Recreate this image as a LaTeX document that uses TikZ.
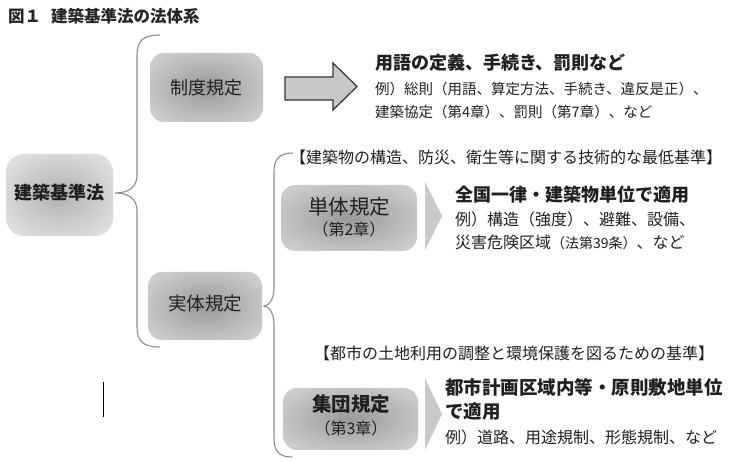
\documentclass[tikz,border=0pt]{standalone}
\usepackage{fontspec}
\setmainfont{Noto Sans CJK JP}
\definecolor{txt}{HTML}{231F20}
\definecolor{bracecol}{HTML}{8C8C8C}
\definecolor{arrfill}{HTML}{C8C8C8}
\definecolor{chevfill}{HTML}{C9C9CA}
\colorlet{shinA}{black!40}
\colorlet{shoutA}{black!20}
\colorlet{shinB}{black!30}
\colorlet{shoutB}{black!13}
\pgfdeclareradialshading{boxshade}{\pgfpoint{0bp}{0bp}}{color(0bp)=(shinA); color(30bp)=(shoutA); color(50bp)=(shoutA)}
\pgfdeclareradialshading{rootshade}{\pgfpoint{0bp}{0bp}}{color(0bp)=(shinB); color(30bp)=(shoutB); color(50bp)=(shoutB)}
\newcommand{\fs}[1]{\fontsize{#1}{#1}\selectfont}
\tikzset{
  box/.style={rounded corners=14pt, shading=boxshade, inner sep=0pt, text=txt},
  rootbox/.style={rounded corners=18pt, shading=rootshade, inner sep=0pt, text=txt},
  lbl/.style={inner sep=0pt, anchor=west, text=txt},
  clbl/.style={inner sep=0pt, anchor=center, text=txt},
  brace/.style={draw=bracecol, line width=1.1pt},
  chev/.style={fill=chevfill, draw=none},
}
\begin{document}
\begin{tikzpicture}[x=1pt,y=-1pt]
\useasboundingbox[fill=white] (0,0) rectangle (732,462);

% title
\node[lbl, text=black!85] (title) at (8,16) {\fs{16.5}\bfseries 図１\hspace{0.6em}建築基準法の法体系};

% boxes
\node[rootbox, minimum width=107pt, minimum height=82pt] (kihon) at (59.5,195) {};
\node[clbl] (kihonT) at (kihon.center |- 0,193) {\fs{18}\bfseries 建築基準法};

\node[box, minimum width=113pt, minimum height=69pt] (seido) at (206.5,87.5) {};
\node[clbl] (seidoT) at (seido.center) {\fs{18}制度規定};

\node[box, minimum width=114pt, minimum height=68pt] (jittai) at (205,306) {};
\node[clbl] (jittaiT) at (jittai.center |- 0,304) {\fs{18.5}実体規定};

\node[box, minimum width=136pt, minimum height=66pt] (tantai) at (349,218) {};
\node[clbl] (tantaiT) at (349,207) {\fs{20.5}単体規定};
\node[clbl] (tantaiS) at (349,229) {\fs{16}（第2章）};

\node[box, minimum width=135pt, minimum height=62pt] (shudan) at (350.5,419) {};
\node[clbl] (shudanT) at (351,404) {\fs{19.5}\bfseries 集団規定};
\node[clbl] (shudanS) at (351,428) {\fs{16}（第3章）};

% big brace
\coordinate (b1top) at (160,35);
\coordinate (b1tip) at (115,193);
\coordinate (b1bot) at (160,347);
\draw[brace] (b1top) .. controls (143,35) and (137,41) .. (137,55) -- (137,175)
  .. controls (137,187) and (129,193) .. (b1tip)
  .. controls (129,193) and (137,199) .. (137,211) -- (137,327)
  .. controls (137,341) and (143,347) .. (b1bot);

% second brace
\coordinate (b2top) at (293,153);
\coordinate (b2tip) at (264,306);
\coordinate (b2bot) at (292,457);
\draw[brace] (b2top) .. controls (279,153) and (274,159) .. (274,172) -- (274,288)
  .. controls (274,300) and (268,306) .. (b2tip)
  .. controls (268,306) and (274,312) .. (274,324) -- (274,438)
  .. controls (274,451) and (279,457) .. (b2bot);

% block arrow
\draw[fill=arrfill, draw=black!80, line width=1.2pt, line join=miter]
  (285,77) -- (333,77) -- (333,63) -- (357,86.5) -- (333,110) -- (333,100) -- (285,100) -- cycle;

% chevrons
\fill[chev] (425,182) -- (442,216) -- (425,250) -- cycle;
\fill[chev] (425,378) -- (442,414) -- (425,450) -- cycle;

% seido texts
\node[lbl] (s1) at (375,63) {\fs{18}\bfseries 用語の定義、手続き、罰則など};
\node[lbl] (s2) at (375,89) {\fs{14.5}例）総則（用語、算定方法、手続き、違反是正）、};
\node[lbl] (s3) at (375,112) {\fs{14.5}建築協定（第4章）、罰則（第7章）、など};

% tantai texts
\node[lbl] (th) at (290,157) {\fs{16}【建築物の構造、防災、衛生等に関する技術的な最低基準】};
\node[lbl] (t1) at (455,195) {\fs{18}\bfseries 全国一律・建築物単位で適用};
\node[lbl] (t2) at (455,219) {\fs{16}例）構造（強度）、避難、設備、};
\node[lbl] (t3) at (455,242) {\fs{16}災害危険区域{\fs{14}（法第39条）}、など};

% shudan texts
\node[lbl] (uh) at (314,353) {\fs{16}【都市の土地利用の調整と環境保護を図るための基準】};
\node[lbl] (u1) at (445,387) {\fs{18.5}\bfseries 都市計画区域内等・原則敷地単位};
\node[lbl] (u2) at (445,412) {\fs{18.5}\bfseries で適用};
\node[lbl] (u3) at (445,437) {\fs{16}例）道路、用途規制、形態規制、など};

% stray vertical mark
\coordinate (m1) at (103,382);
\coordinate (m2) at (103,417);
\draw[black, line width=1pt] (m1) -- (m2);
\end{tikzpicture}
\end{document}
